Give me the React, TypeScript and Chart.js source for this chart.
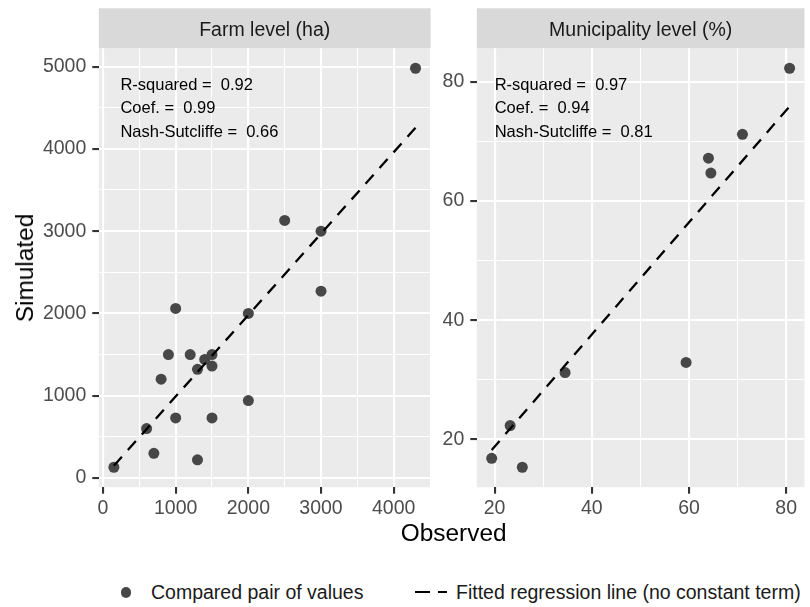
import React, { useEffect, useRef } from 'react';
import { Chart, registerables } from 'chart.js';

Chart.register(...registerables);

// ---------- data ----------
const farmObserved = [150, 600, 700, 800, 900, 1000, 1000, 1200, 1300, 1300, 1400, 1500, 1500, 1500, 2000, 2000, 2500, 3000, 3000, 4300];
const farmSimulated = [130, 600, 300, 1200, 1500, 2060, 730, 1500, 220, 1320, 1440, 1500, 1360, 730, 2000, 940, 3130, 3000, 2270, 4980];
const farmFitObserved = [150, 4300];
const farmFitSimulated = [148.5, 4257];

const muniObserved = [19.4, 23.2, 25.7, 34.5, 59.4, 64.0, 64.5, 71.0, 80.7];
const muniSimulated = [16.8, 22.3, 15.3, 31.2, 32.9, 67.2, 64.7, 71.2, 82.3];
const muniFitObserved = [19.4, 80.7];
const muniFitSimulated = [18.2, 75.9];

const farmXMajor = [0, 1000, 2000, 3000, 4000];
const farmXMinor = [500, 1500, 2500, 3500, 4500];
const farmYMajor = [0, 1000, 2000, 3000, 4000, 5000];
const farmYMinor = [500, 1500, 2500, 3500, 4500];
const muniXMajor = [20, 40, 60, 80];
const muniXMinor = [30, 50, 70];
const muniYMajor = [20, 40, 60, 80];
const muniYMinor = [30, 50, 70];

const farmTitle = 'Farm level (ha)';
const muniTitle = 'Municipality level (%)';
const farmStats = ['R-squared =  0.92', 'Coef. =  0.99', 'Nash-Sutcliffe =  0.66'];
const muniStats = ['R-squared =  0.97', 'Coef. =  0.94', 'Nash-Sutcliffe =  0.81'];

const xTitle = 'Observed';
const yTitle = 'Simulated';
const legendPoints = 'Compared pair of values';
const legendLine = 'Fitted regression line (no constant term)';

// ---------- styling ----------
const FONT = '"Liberation Sans", Arial, Helvetica, sans-serif';
const POINT_COLOR = '#474747';

function expand(a: number[]): [number, number] {
  const mn = Math.min(...a);
  const mx = Math.max(...a);
  const d = (mx - mn) * 0.05;
  return [mn - d, mx + d];
}

const panelPlugin = {
  id: 'panelDeco',
  beforeDraw(chart: any, _args: any, opts: any) {
    const { ctx, chartArea: a } = chart;
    ctx.save();
    ctx.fillStyle = '#EBEBEB';
    ctx.fillRect(a.left, a.top, a.right - a.left, a.bottom - a.top);
    ctx.fillStyle = '#D9D9D9';
    ctx.fillRect(a.left, 8.3, a.right - a.left, a.top - 8.3);
    ctx.fillStyle = '#1A1A1A';
    ctx.font = `19.5px ${FONT}`;
    ctx.textAlign = 'center';
    ctx.textBaseline = 'alphabetic';
    ctx.fillText(opts.title, (a.left + a.right) / 2, 36);
    ctx.restore();
  },
  afterDraw(chart: any, _args: any, opts: any) {
    const { ctx, chartArea: a } = chart;
    ctx.save();
    ctx.fillStyle = '#000000';
    ctx.font = `16.5px ${FONT}`;
    ctx.textAlign = 'left';
    ctx.textBaseline = 'alphabetic';
    (opts.stats as string[]).forEach((s, i) => {
      ctx.fillText(s, a.left + opts.dx, a.top + 41.7 + i * 23.4);
    });
    ctx.restore();
  },
};

type PanelProps = {
  left: number;
  width: number;
  axisWidth: number;
  rightPad: number;
  title: string;
  stats: string[];
  statsDx: number;
  xs: number[];
  ys: number[];
  fitX: number[];
  fitY: number[];
  xMajor: number[];
  xMinor: number[];
  yMajor: number[];
  yMinor: number[];
};

const CANVAS_H = 520;

function Panel(p: PanelProps) {
  const ref = useRef<HTMLCanvasElement>(null);
  useEffect(() => {
    if (!ref.current) return;
    const xr = expand([...p.xs, ...p.fitX]);
    const yr = expand([...p.ys, ...p.fitY]);
    const xMaj = new Set(p.xMajor);
    const yMaj = new Set(p.yMajor);
    const tickFont = { family: FONT, size: 19.5 };
    const mkTicks = (maj: number[], min: number[], r: [number, number]) =>
      [...maj, ...min]
        .filter((v) => v >= r[0] && v <= r[1])
        .sort((a, b) => a - b)
        .map((v) => ({ value: v }));

    const chart = new Chart(ref.current, {
      type: 'scatter',
      data: {
        datasets: [
          {
            data: p.fitX.map((x, i) => ({ x, y: p.fitY[i] })),
            showLine: true,
            pointRadius: 0,
            borderColor: '#000000',
            borderWidth: 2.3,
            borderDash: [12, 9],
            borderCapStyle: 'butt',
          } as any,
          {
            data: p.xs.map((x, i) => ({ x, y: p.ys[i] })),
            pointRadius: 5.5,
            pointHoverRadius: 5.5,
            backgroundColor: POINT_COLOR,
            borderWidth: 0,
          },
        ],
      },
      options: {
        animation: false,
        responsive: false,
        maintainAspectRatio: false,
        events: [],
        layout: { padding: { top: 48.3, right: p.rightPad, left: 0, bottom: 0 } },
        plugins: {
          legend: { display: false },
          tooltip: { enabled: false },
          panelDeco: { title: p.title, stats: p.stats, dx: p.statsDx },
        } as any,
        scales: {
          x: {
            type: 'linear',
            min: xr[0],
            max: xr[1],
            afterBuildTicks: (s: any) => {
              s.ticks = mkTicks(p.xMajor, p.xMinor, xr);
            },
            afterFit: (s: any) => {
              s.height = CANVAS_H - 487.2;
            },
            border: { display: false },
            grid: {
              color: '#FFFFFF',
              lineWidth: (c: any) => (xMaj.has(c.tick?.value) ? 2.1 : 1.05),
              tickColor: (c: any) => (xMaj.has(c.tick?.value) ? '#333333' : 'rgba(0,0,0,0)'),
              tickWidth: 2.1,
              tickLength: 6.5,
            },
            ticks: {
              autoSkip: false,
              maxRotation: 0,
              padding: 3,
              color: '#4D4D4D',
              font: tickFont,
              callback: (v: any) => (xMaj.has(v) ? String(v) : ''),
            },
          },
          y: {
            type: 'linear',
            min: yr[0],
            max: yr[1],
            afterBuildTicks: (s: any) => {
              s.ticks = mkTicks(p.yMajor, p.yMinor, yr);
            },
            afterFit: (s: any) => {
              s.width = p.axisWidth;
            },
            border: { display: false },
            grid: {
              color: '#FFFFFF',
              lineWidth: (c: any) => (yMaj.has(c.tick?.value) ? 2.1 : 1.05),
              tickColor: (c: any) => (yMaj.has(c.tick?.value) ? '#333333' : 'rgba(0,0,0,0)'),
              tickWidth: 2.1,
              tickLength: 6.5,
            },
            ticks: {
              autoSkip: false,
              padding: 6,
              color: '#4D4D4D',
              font: tickFont,
              callback: (v: any) => (yMaj.has(v) ? String(v) : ''),
            },
          },
        },
      },
      plugins: [panelPlugin as any],
    });
    return () => chart.destroy();
  }, []);
  return (
    <canvas
      ref={ref}
      width={p.width}
      height={CANVAS_H}
      style={{ position: 'absolute', left: p.left, top: 0, width: p.width, height: CANVAS_H }}
    />
  );
}

export default function App() {
  return (
    <div
      style={{
        position: 'absolute',
        left: 0,
        top: 0,
        width: 810,
        height: 607,
        background: '#FFFFFF',
        fontFamily: FONT,
        overflow: 'hidden',
      }}
    >
      <Panel
        left={0}
        width={440}
        axisWidth={98.8}
        rightPad={9.4}
        title={farmTitle}
        stats={farmStats}
        statsDx={21.6}
        xs={farmObserved}
        ys={farmSimulated}
        fitX={farmFitObserved}
        fitY={farmFitSimulated}
        xMajor={farmXMajor}
        xMinor={farmXMinor}
        yMajor={farmYMajor}
        yMinor={farmYMinor}
      />
      <Panel
        left={440}
        width={370}
        axisWidth={36.8}
        rightPad={1.5}
        title={muniTitle}
        stats={muniStats}
        statsDx={17.9}
        xs={muniObserved}
        ys={muniSimulated}
        fitX={muniFitObserved}
        fitY={muniFitSimulated}
        xMajor={muniXMajor}
        xMinor={muniXMinor}
        yMajor={muniYMajor}
        yMinor={muniYMinor}
      />
      {/* x axis title */}
      <div
        style={{
          position: 'absolute',
          left: 98.8,
          width: 808.5 - 98.8,
          top: 519,
          height: 28,
          lineHeight: '28px',
          fontSize: 24.4,
          textAlign: 'center',
          color: '#000',
          whiteSpace: 'nowrap',
        }}
      >
        {xTitle}
      </div>
      {/* y axis title */}
      <div
        style={{
          position: 'absolute',
          left: 24.5,
          top: 267.5,
          height: 28,
          lineHeight: '28px',
          fontSize: 24.4,
          color: '#000',
          whiteSpace: 'nowrap',
          transform: 'translate(-50%, -50%) rotate(-90deg)',
        }}
      >
        {yTitle}
      </div>
      {/* legend */}
      <div
        style={{
          position: 'absolute',
          left: 120.5,
          top: 587,
          width: 10.5,
          height: 10.5,
          borderRadius: '50%',
          background: POINT_COLOR,
        }}
      />
      <div
        style={{
          position: 'absolute',
          left: 151,
          top: 582.2,
          height: 20,
          lineHeight: '20px',
          fontSize: 19.5,
          color: '#1A1A1A',
          whiteSpace: 'nowrap',
        }}
      >
        {legendPoints}
      </div>
      <div style={{ position: 'absolute', left: 415, top: 591, width: 14.5, height: 2.3, background: '#000' }} />
      <div style={{ position: 'absolute', left: 437.5, top: 591, width: 9.2, height: 2.3, background: '#000' }} />
      <div
        style={{
          position: 'absolute',
          left: 456,
          top: 582.2,
          height: 20,
          lineHeight: '20px',
          fontSize: 19.5,
          color: '#1A1A1A',
          whiteSpace: 'nowrap',
        }}
      >
        {legendLine}
      </div>
    </div>
  );
}
